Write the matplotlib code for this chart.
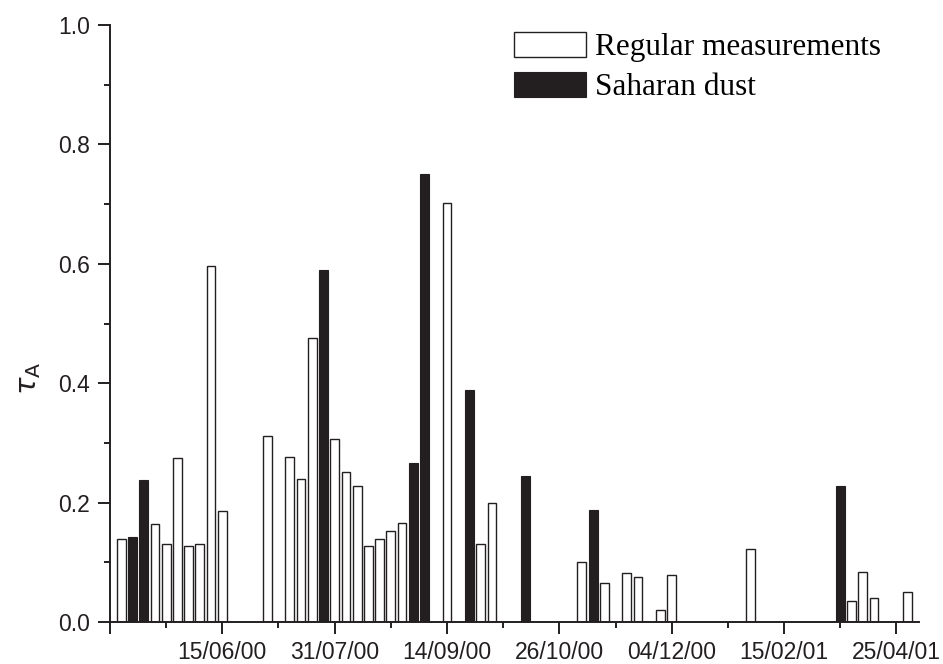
import matplotlib
matplotlib.use("Agg")
import matplotlib.pyplot as plt
from matplotlib.ticker import MultipleLocator

# slot index of each measurement along the time axis and its optical depth
regular_pos = [1, 4, 5, 6, 7, 8, 9, 10, 14, 16, 17, 18, 20, 21, 22, 23, 24, 25, 26,
               30, 33, 34, 42, 44, 46, 47, 49, 50, 57, 66, 67, 68, 71]
regular_tau = [0.139, 0.164, 0.131, 0.274, 0.127, 0.131, 0.597, 0.186, 0.311, 0.277,
               0.240, 0.476, 0.307, 0.252, 0.227, 0.127, 0.139, 0.152, 0.165, 0.702,
               0.131, 0.200, 0.100, 0.066, 0.082, 0.075, 0.020, 0.078, 0.123, 0.035,
               0.084, 0.040, 0.050]

dust_pos = [2, 3, 19, 27, 28, 32, 37, 43, 65]
dust_tau = [0.142, 0.238, 0.590, 0.267, 0.750, 0.388, 0.245, 0.187, 0.228]

tick_pos = [0, 10, 20, 30, 40, 50, 60, 70]
tick_labels = ['', '15/06/00', '31/07/00', '14/09/00', '26/10/00',
               '04/12/00', '15/02/01', '25/04/01']

dark = '#231f20'

fig = plt.figure(figsize=(9.43, 6.64), dpi=100)
ax = fig.add_axes([0.1166, 0.0633, 0.8579, 0.899])

ax.bar(regular_pos, regular_tau, width=0.78, color='white', edgecolor=dark,
       linewidth=1.0, label='Regular measurements')
ax.bar(dust_pos, dust_tau, width=0.8, color=dark, edgecolor=dark,
       linewidth=0.8, label='Saharan dust')

ax.set_xlim(0, 72)
ax.set_ylim(0, 1.0)
ax.set_xticks(tick_pos)
ax.set_xticklabels(tick_labels)
ax.xaxis.set_minor_locator(MultipleLocator(5))
ax.yaxis.set_major_locator(MultipleLocator(0.2))
ax.yaxis.set_minor_locator(MultipleLocator(0.1))
ax.yaxis.set_major_formatter(matplotlib.ticker.FormatStrFormatter('%.1f'))

for s in ['top', 'right']:
    ax.spines[s].set_visible(False)
for s in ['left', 'bottom']:
    ax.spines[s].set_linewidth(1.4)
    ax.spines[s].set_color(dark)

ax.tick_params(which='major', length=8.6, width=1.4, color=dark, direction='out',
               labelsize=16.5, labelcolor=dark, pad=6)
ax.tick_params(axis='x', which='major', pad=5)
ax.tick_params(which='minor', length=4.5, width=1.4, color=dark, direction='out')
for lab in ax.get_xticklabels() + ax.get_yticklabels():
    lab.set_fontfamily('Liberation Sans')

fig.text(0.031, 0.430, r'$\tau_\mathrm{A}$', rotation=90, ha='center', va='center',
         fontsize=21, color=dark)

ax.legend(loc='upper left', bbox_to_anchor=(0.4994, 0.988), frameon=False,
          prop={'family': 'Liberation Serif', 'size': 22.5}, handlelength=2.3,
          handleheight=0.85, handletextpad=0.3, labelspacing=0.3, borderpad=0,
          borderaxespad=0)

fig.savefig('out.png', dpi=100)
